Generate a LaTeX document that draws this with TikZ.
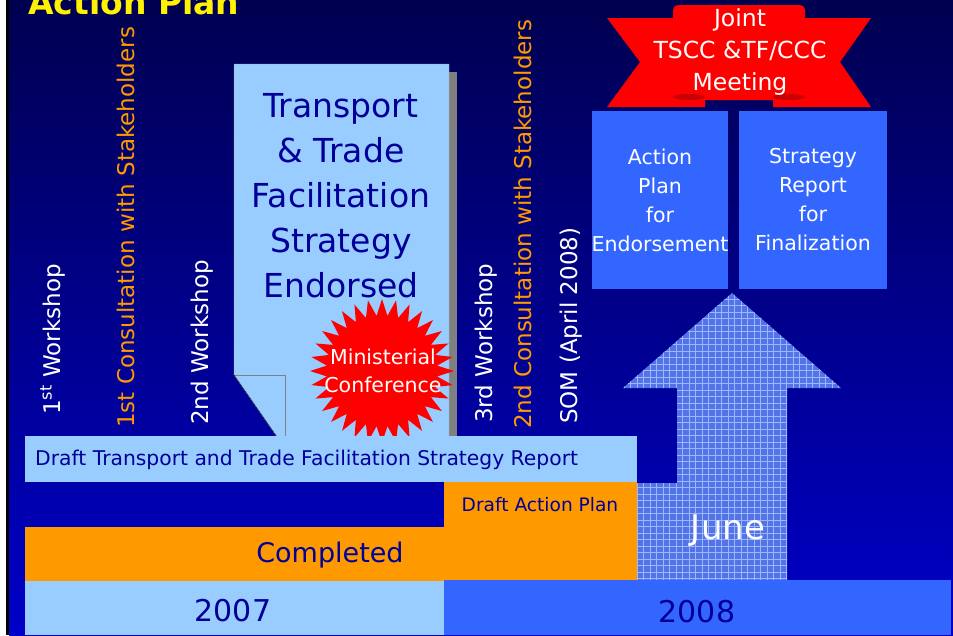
\documentclass[tikz,border=0pt]{standalone}
\usepackage{fontspec}
\setmainfont{DejaVu Sans}
\usetikzlibrary{shapes.geometric}
\definecolor{bg_top}{RGB}{0,0,80}
\definecolor{bg_bottom}{RGB}{0,0,200}
\definecolor{box_light}{RGB}{153,204,255}
\definecolor{box_mid}{RGB}{51,102,255}
\definecolor{text_dark}{RGB}{0,0,153}
\definecolor{bar_orange}{RGB}{255,153,0}
\definecolor{arrow_base}{RGB}{85,115,230}
\definecolor{arrow_grid}{RGB}{150,185,255}
\definecolor{fold_red}{RGB}{200,0,0}
\definecolor{doc_shadow}{RGB}{128,128,128}

\begin{document}
\begin{tikzpicture}[x=1pt,y=-1pt]
    \tikzstyle{vlabel}=[rotate=90,anchor=west,inner sep=0pt,font=\fontsize{23}{27}\selectfont]
    \tikzstyle{white_label}=[style=vlabel,text=white]
    \tikzstyle{orange_label}=[style=vlabel,text=bar_orange]
    \tikzstyle{dark}=[text=text_dark,inner sep=0pt,align=center]
    \tikzstyle{light}=[text=white,inner sep=0pt,align=center]
    \tikzstyle{blue_box}=[style=light,fill=box_mid,minimum height=178pt,font=\fontsize{20.5}{29}\selectfont]
    \tikzstyle{burst}=[star,star points=32,star point ratio=1.3,fill=red,minimum size=144pt,inner sep=0pt]
    \useasboundingbox (0,0) rectangle (953,635);
    \clip (0,0) rectangle (953,635);
    % background
    \fill[white] (0,0) rectangle (6,635);
    \fill[black] (6,0) rectangle (9,635);
    \shade[top color=bg_top,bottom color=bg_bottom] (9,0) rectangle (953,635);
    \node[anchor=base west,inner sep=0pt,text=yellow,font=\bfseries\fontsize{33}{33}\selectfont] (title) at (28,14) {Action Plan};

    % milestones
    \node[white_label]  (w1)  at (53,415)  {1\textsuperscript{st} Workshop};
    \node[orange_label] (c1)  at (126,428) {1st Consultation with Stakeholders};
    \node[white_label]  (w2)  at (202,425) {2nd Workshop};
    \node[white_label]  (w3)  at (486,423) {3rd Workshop};
    \node[orange_label] (c2)  at (523,429) {2nd Consultation with Stakeholders};
    \node[white_label]  (som) at (571,424) {SOM (April 2008)};

    % strategy document
    \fill[doc_shadow] (448,72) rectangle (457,437);
    \filldraw[fill=box_light,draw=gray!70,thin] (234,64) -- (449,64) -- (449,437) -- (277,437) -- (234,375) -- cycle;
    \filldraw[fill=box_light,draw=gray] (234,375) -- (285,375) -- (285,437) -- (277,437);
    \draw[black] (234,375) -- (277,437);
    \node[dark,font=\fontsize{33}{45}\selectfont] (doc) at (341,196) {Transport\\\& Trade\\Facilitation\\Strategy\\Endorsed};
    \node[burst] (burst) at (382,371) {};
    \node[light,font=\fontsize{20.5}{28}\selectfont] (mc) at (383,371) {Ministerial\\Conference};

    \fill[box_light] (25,436) rectangle (637,482);
    \node[dark,anchor=west,font=\fontsize{20.3}{24}\selectfont] (dtr) at (35,460) {Draft Transport and Trade Facilitation Strategy Report};

    % meeting
    \node[blue_box,minimum width=136pt] (ap) at (660,200) {Action\\Plan\\for\\Endorsement};
    \node[blue_box,minimum width=148pt] (sr) at (813,200) {Strategy\\Report\\for\\Finalization};
    \fill[red] (607,18) -- (673,18) [rounded corners=5pt] -- (673,5) -- (805,5) [sharp corners] -- (805,18) -- (871,18) -- (840,62)
        -- (871,107) -- (773,107) -- (773,100) -- (705,100) -- (705,107) -- (607,107) -- (640,62) -- cycle;
    \fill[fold_red] (689,97) ellipse (16 and 3);
    \fill[fold_red] (789,97) ellipse (16 and 3);
    \node[light,font=\fontsize{23.5}{32}\selectfont] (meet) at (740,52) {Joint\\TSCC \&TF/CCC\\Meeting};

    % June arrow
    \fill[arrow_base] (637,483) -- (677,483) -- (677,388) -- (623,388) -- (732,293) -- (841,388) -- (787,388) -- (787,580) -- (637,580) -- cycle;
    \begin{scope}
      \clip (637,483) -- (677,483) -- (677,388) -- (623,388) -- (732,293) -- (841,388) -- (787,388) -- (787,580) -- (637,580) -- cycle;
      \draw[arrow_grid,line width=0.7pt,step=6.5pt] (600,280) grid (850,590);
    \end{scope}
    \node[light,font=\fontsize{34}{34}\selectfont] (june) at (728,531) {June};

    % progress
    \fill[bar_orange] (444,482) rectangle (637,581);
    \fill[bar_orange] (25,527) rectangle (637,581);
    \node[dark,font=\fontsize{18.6}{22}\selectfont] (dap) at (540,505) {Draft Action Plan};
    \node[dark,font=\fontsize{27}{27}\selectfont] (done) at (330,555) {Completed};

    % years
    \fill[box_light] (25,581) rectangle (444,635);
    \fill[box_mid] (444,580) rectangle (951,635);
    \node[dark,font=\fontsize{30}{30}\selectfont] (y07) at (233,611) {2007};
    \node[dark,font=\fontsize{30}{30}\selectfont] (y08) at (697,612) {2008};
\end{tikzpicture}
\end{document}
